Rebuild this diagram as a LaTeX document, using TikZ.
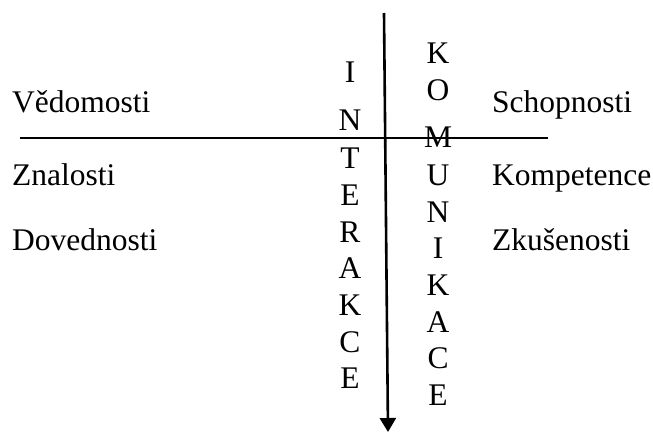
\documentclass[tikz,border=0pt]{standalone}
\usepackage{fontspec}
\setmainfont{Liberation Serif}
\usetikzlibrary{arrows.meta}
\begin{document}
\begin{tikzpicture}[x=1pt,y=-1pt,
  lbl/.style={anchor=base west,inner sep=0pt,font=\fontsize{31.5}{36}\selectfont},
  letter/.style={anchor=base,inner sep=0pt,font=\fontsize{31.5}{36}\selectfont}]
\useasboundingbox (0,0) rectangle (653,432);

% side labels
\node[lbl] (ved) at (12,112) {Vědomosti};
\node[lbl] (zna) at (12,185) {Znalosti};
\node[lbl] (dov) at (12,250) {Dovednosti};
\node[lbl] (sch) at (492,112) {Schopnosti};
\node[lbl] (kom) at (492,185) {Kompetence};
\node[lbl] (zku) at (492,250) {Zkušenosti};

% horizontal divider
\coordinate (hl) at (20,138);
\coordinate (hr) at (548,138);
\draw[line width=1.5pt] (hl) -- (hr);

% vertical arrow
\coordinate (vt) at (384,13);
\coordinate (vb) at (388,432);
\draw[line width=2.6pt,-{Triangle[width=16pt,length=14pt]}] (vt) -- (vb);

% INTERAKCE, written top to bottom
\foreach \c/\y [count=\i] in {I/82,N/130,T/168,E/205,R/242,A/278,K/315,C/352,E/388}
  \node[letter] (int\i) at (350,\y) {\c};

% KOMUNIKACE, written top to bottom
\foreach \c/\y [count=\i] in {K/63,O/100,M/147,U/185,N/222,I/258,K/295,A/332,C/368,E/405}
  \node[letter] (kmn\i) at (438,\y) {\c};
\end{tikzpicture}
\end{document}
